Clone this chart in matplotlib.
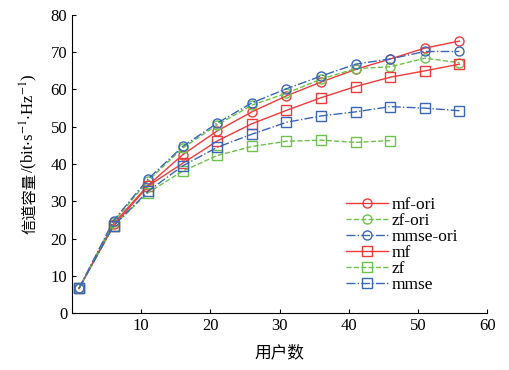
import numpy as np
import matplotlib
matplotlib.use('Agg')
import matplotlib.pyplot as plt

plt.rcParams['font.family'] = ['Liberation Serif', 'Noto Sans CJK SC', 'DejaVu Sans']
plt.rcParams['mathtext.fontset'] = 'stix'

users = [1, 6, 11, 16, 21, 26, 31, 36, 41, 46, 51, 56]

mf_ori = [6.6, 24.0, 34.3, 42.5, 48.9, 54.0, 58.3, 62.0, 65.4, 68.2, 71.1, 73.0]
zf_ori = [6.6, 24.5, 35.5, 44.3, 50.5, 55.8, 59.0, 62.8, 65.6, 66.1, 68.4, 67.2]
mmse_ori = [6.6, 24.8, 36.0, 44.7, 51.0, 56.4, 60.2, 63.6, 66.8, 68.2, 70.2, 70.2]
mf = [6.6, 23.4, 34.1, 40.2, 46.2, 50.8, 54.4, 57.8, 60.8, 63.3, 65.0, 66.8]
zf_users = [1, 6, 11, 16, 21, 26, 31, 36, 41, 46]
zf = [6.6, 23.4, 32.3, 38.1, 42.3, 44.7, 46.1, 46.4, 45.8, 46.3]
mmse = [6.6, 23.4, 32.7, 39.5, 44.5, 48.0, 51.2, 52.9, 54.0, 55.4, 55.0, 54.3]

red = '#F03A3A'
green = '#6CC24A'
blue = '#3A66B8'

fig = plt.figure(figsize=(5.09, 3.70), dpi=100)
ax = fig.add_axes([0.1415, 0.154, 0.8155, 0.8055])

ms = 6.5
ax.plot(users, mf_ori, '-', color=red, lw=1.0, marker='o', ms=ms, mfc='none', mec=red, label='mf-ori')
ax.plot(users, zf_ori, '--', color=green, lw=1.0, marker='o', ms=ms, mfc='none', mec=green, label='zf-ori')
ax.plot(users, mmse_ori, '-.', color=blue, lw=1.0, marker='o', ms=ms, mfc='none', mec=blue, label='mmse-ori')
ax.plot(users, mf, '-', color=red, lw=1.0, marker='s', ms=ms, mfc='none', mec=red, label='mf')
ax.plot(zf_users, zf, '--', color=green, lw=1.0, marker='s', ms=ms, mfc='none', mec=green, label='zf')
ax.plot(users, mmse, '-.', color=blue, lw=1.0, marker='s', ms=ms, mfc='none', mec=blue, label='mmse')

ax.set_xlim(0, 60)
ax.set_ylim(0, 80)
ax.set_xticks([10, 20, 30, 40, 50, 60])
ax.set_yticks(range(0, 81, 10))
ax.spines['top'].set_visible(False)
ax.spines['right'].set_visible(False)
ax.tick_params(direction='in', length=3, labelsize=12, width=0.8)

ax.set_xlabel('用户数', fontsize=12, labelpad=8)

# y label in two pieces: CJK part + math part with small superscripts
W, H = 509.0, 370.0
x_base = 34 / W
y0 = (H - 234) / H
t1 = fig.text(x_base, y0, '信道容量', fontsize=11, rotation=90, rotation_mode='anchor',
              ha='left', va='baseline', family=['Noto Sans CJK SC'])
renderer = fig.canvas.get_renderer()
h1 = t1.get_window_extent(renderer).height
fig.text(x_base, y0 + h1 / H, r'/(bit$\cdot$s$^{-1}$$\cdot$Hz$^{-1}$)', fontsize=12,
         rotation=90, rotation_mode='anchor', ha='left', va='baseline')

ax.legend(loc='lower right', bbox_to_anchor=(0.96, 0.025), frameon=False, fontsize=12.5,
          labelspacing=0.0, handlelength=2.4, handletextpad=0.25, borderpad=0.2)

fig.savefig('out.png', dpi=100)
